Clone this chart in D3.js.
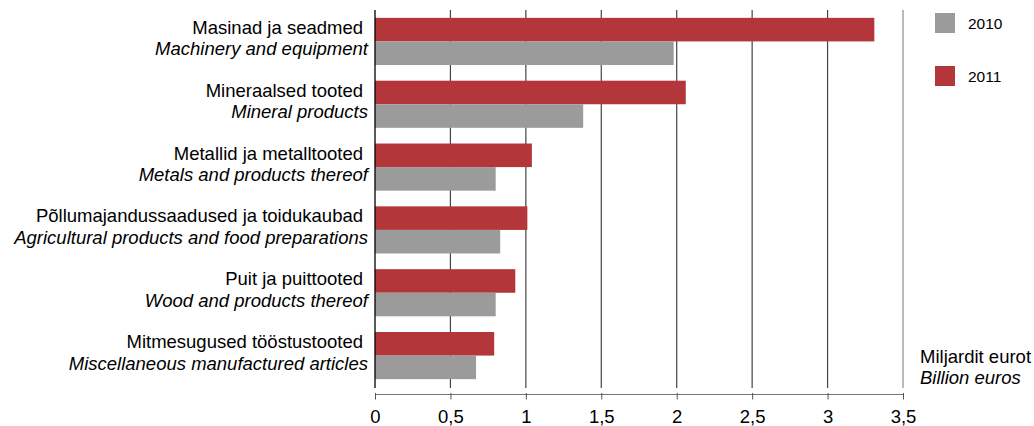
<!DOCTYPE html>
<html><head><meta charset="utf-8">
<script src="https://cdn.jsdelivr.net/npm/d3@7"></script>
<style>body{margin:0;background:#fff}svg{display:block}text{font-family:"Liberation Sans",Arial,sans-serif;fill:#000}</style>
</head><body>
<svg id="c" width="1034" height="426"></svg>
<script>
const categoriesEt = ["Masinad ja seadmed","Mineraalsed tooted","Metallid ja metalltooted","Põllumajandussaadused ja toidukaubad","Puit ja puittooted","Mitmesugused tööstustooted"];
const categoriesEn = ["Machinery and equipment","Mineral products","Metals and products thereof","Agricultural products and food preparations","Wood and products thereof","Miscellaneous manufactured articles"];
const series = ["2011","2010"];
const values2011 = [3.31,2.06,1.04,1.01,0.93,0.79];
const values2010 = [1.98,1.38,0.80,0.83,0.80,0.67];
const ticks = [0,0.5,1,1.5,2,2.5,3,3.5];
const tickLabels = ["0","0,5","1","1,5","2","2,5","3","3,5"];
const colors = {"2011":"#b3363a","2010":"#9b9b9b"};

const svg = d3.select("#c");
const x = d3.scaleLinear().domain([0,3.5]).range([375,903]);
const y = d3.scaleBand().domain(d3.range(categoriesEt.length)).range([10,387]).paddingInner(0.25).paddingOuter(0.125);
const y2 = d3.scaleBand().domain(series).range([0,y.bandwidth()]);

// gridlines
svg.append("g").selectAll("line").data(ticks.slice(1)).join("line")
  .attr("x1",d=>x(d)).attr("x2",d=>x(d)).attr("y1",10).attr("y2",388)
  .attr("stroke",(d,i)=>i===ticks.length-2?"#8a8a8a":"#444").attr("stroke-width",1.2);

// bars
const data = [];
categoriesEt.forEach((c,i)=>{data.push({i,s:"2011",v:values2011[i]});data.push({i,s:"2010",v:values2010[i]});});
svg.append("g").selectAll("rect").data(data).join("rect")
  .attr("x",x(0)).attr("y",d=>y(d.i)+y2(d.s)).attr("width",d=>x(d.v)-x(0)).attr("height",y2.bandwidth())
  .attr("fill",d=>colors[d.s]);

// left axis line
svg.append("line").attr("x1",375).attr("x2",375).attr("y1",10).attr("y2",388).attr("stroke","#000").attr("stroke-width",1.3);

// bottom axis
const xAxis = d3.axisBottom(x).tickValues(ticks).tickFormat((d,i)=>tickLabels[i]).tickSize(5).tickPadding(10);
const ag = svg.append("g").attr("transform","translate(0,394.5)").call(xAxis);
ag.select(".domain").attr("stroke","#777").attr("d",`M${x(0)},0H${x(3.5)}`);
ag.selectAll(".tick line").attr("stroke","#555").attr("y1",-1.5).attr("y2",5);
ag.selectAll(".tick text").attr("font-size",18.5).attr("font-family","Liberation Sans, Arial, sans-serif").attr("fill","#000");

// category labels
const lab = svg.append("g");
categoriesEt.forEach((c,i)=>{
  const cy = y(i)+y.bandwidth()/2;
  lab.append("text").attr("x",363).attr("y",cy-7.5).attr("text-anchor","end").attr("font-size",18.5).text(c);
  lab.append("text").attr("x",368).attr("y",cy+14).attr("text-anchor","end").attr("font-size",18.5).attr("font-style","italic").text(categoriesEn[i]);
});

// legend
const legendOrder = ["2010","2011"];
const lg = svg.append("g");
legendOrder.forEach((s,i)=>{
  lg.append("rect").attr("x",935).attr("y",13+i*53).attr("width",20).attr("height",20).attr("fill",colors[s]);
  lg.append("text").attr("x",968).attr("y",28.5+i*53).attr("font-size",15.5).text(s);
});

// unit
svg.append("text").attr("x",920).attr("y",363).attr("font-size",18.5).text("Miljardit eurot");
svg.append("text").attr("x",920).attr("y",384).attr("font-size",18.5).attr("font-style","italic").text("Billion euros");
</script>
</body></html>
